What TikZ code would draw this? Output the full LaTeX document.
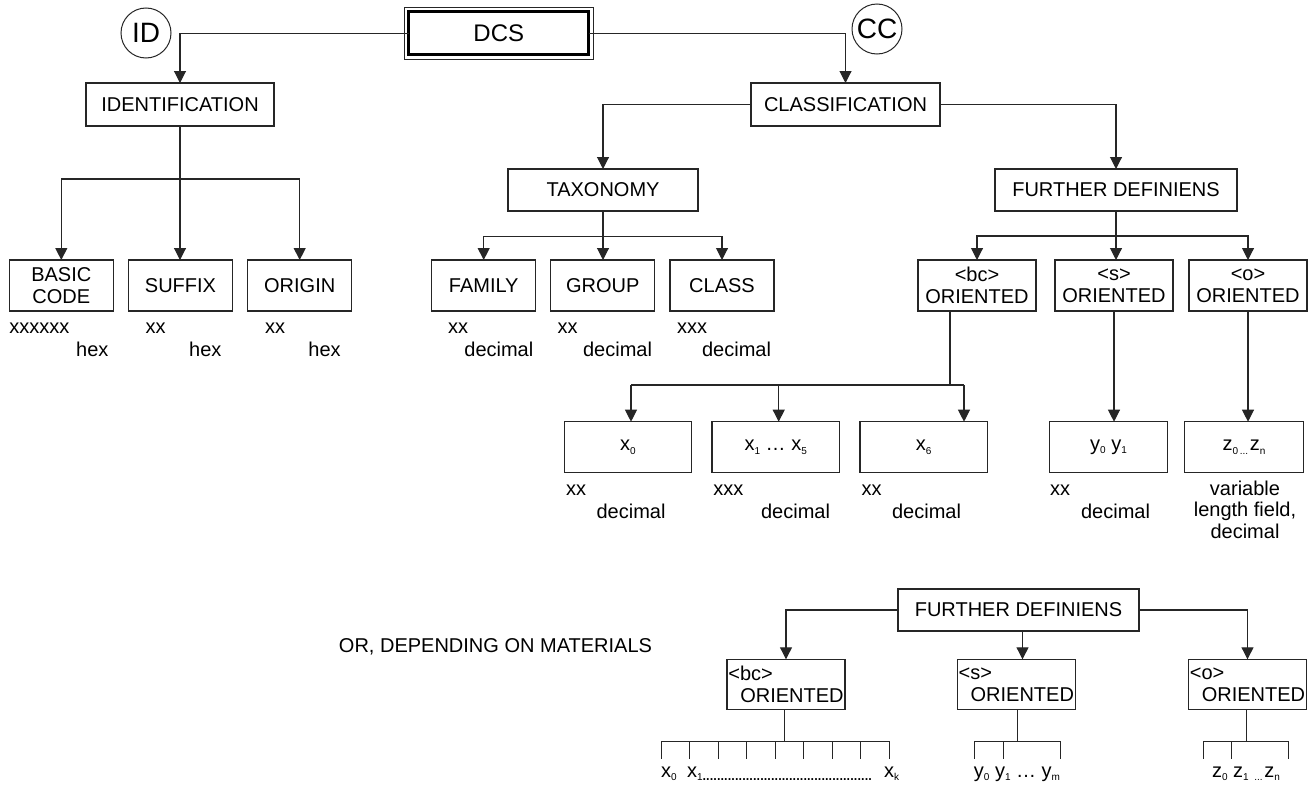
\documentclass[tikz,border=0pt]{standalone}
\usepackage{fontspec}
\setmainfont{Liberation Sans}
\usetikzlibrary{arrows.meta,calc}
% small lowered index figures
\newcommand\sbs[1]{\raisebox{-3.5pt}{\fontsize{10}{10}\selectfont #1}}

\begin{document}
\begin{tikzpicture}[x=1pt,y=-1pt,
  every node/.style={inner sep=0pt, outer sep=0pt, text=black,
    font=\fontsize{20}{22}\selectfont},
  box/.style={draw=black!85, line width=1.1pt, minimum height=43pt, align=center},
  tallbox/.style={box, minimum height=51pt},
  lowbox/.style={box, minimum height=50pt, minimum width=118pt, align=left},
  circ/.style={circle, draw=black!85, line width=1pt, minimum size=50pt,
    font=\fontsize{28}{28}\selectfont},
  ln/.style={draw=black!85, line width=1.1pt},
  arr/.style={ln, -{Triangle[length=12pt,width=12pt]}},
  comb/.style={ln, line width=1pt},
  lbl/.style={anchor=base west},
  unit/.style={anchor=base east},
]
\useasboundingbox (0,0) rectangle (1311,787);

% ---------- root ----------
\node[draw=black, line width=3.3pt, minimum width=180pt, minimum height=43pt,
      font=\fontsize{24}{26}\selectfont] (dcs) at (498.8,33.3) {DCS};
\draw[line width=1pt, black!85] ($(dcs.north west)+(-4.5,-4.5)$) rectangle ($(dcs.south east)+(4.5,4.5)$);
\node[circ] (idc) at (146,33) {ID};
\node[circ] (ccc) at (877,29) {CC};

\node[box, minimum width=188pt] (ident)   at (180,104.5) {IDENTIFICATION};
\node[box, minimum width=189pt] (classif) at (845.5,104.5) {CLASSIFICATION};
\draw[arr] (dcs.west) -| (ident.north);
\draw[arr] (dcs.east) -| (classif.north);

% ---------- identification ----------
\node[tallbox, minimum width=104pt, font=\fontsize{20}{21.7}\selectfont] (basic) at (61.3,285.5) {BASIC\\CODE};
\node[tallbox, minimum width=104pt] (suffix) at (180.5,285.5) {SUFFIX};
\node[tallbox, minimum width=104pt] (origin) at (299.7,285.5) {ORIGIN};
\coordinate (ib) at (180,179);
\draw[ln] (ident.south) -- (ib);
\draw[arr] (ib) -- (ib |- suffix.north);
\draw[arr] (ib) -| (basic.north);
\draw[arr] (ib) -| (origin.north);

\node[lbl] at (9.3,333.3) {xxxxxx};   \node[unit] at (108.4,356) {hex};
\node[lbl] at (145.7,333.3) {xx};     \node[unit] at (221.4,356) {hex};
\node[lbl] at (265,333.3) {xx};       \node[unit] at (340.7,356) {hex};

% ---------- classification ----------
\node[box, minimum width=190pt, minimum height=42pt] (tax) at (603,190) {TAXONOMY};
\node[box, minimum width=242pt, minimum height=42pt] (fd)  at (1116,190) {FURTHER DEFINIENS};
\draw[arr] (classif.west) -| (tax.north);
\draw[arr] (classif.east) -| (fd.north);

\node[tallbox, minimum width=104pt] (family) at (483.7,285.5) {FAMILY};
\node[tallbox, minimum width=104pt] (group)  at (602.8,285.5) {GROUP};
\node[tallbox, minimum width=104pt] (class)  at (722,285.5) {CLASS};
\coordinate (tb) at (603,236.7);
\draw[ln] (tax.south) -- (tb);
\draw[arr] (tb) -- (tb |- group.north);
\draw[arr] (tb) -| (family.north);
\draw[arr] (tb) -| (class.north);

\node[lbl] at (448,333.3) {xx};    \node[unit] at (533.3,356) {decimal};
\node[lbl] at (557.7,333.3) {xx};  \node[unit] at (652,356) {decimal};
\node[lbl] at (677,333.3) {xxx};   \node[unit] at (771,356) {decimal};

% ---------- further definiens ----------
\node[tallbox, minimum width=118pt] (bc) at (977,285.5) {<bc>\\ORIENTED};
\node[tallbox, minimum width=118pt] (s)  at (1114,285.5) {<s>\\ORIENTED};
\node[tallbox, minimum width=118pt] (o)  at (1248,285.5) {<o>\\ORIENTED};
\coordinate (fb) at (1116,236);
\draw[ln] (fd.south) -- (fb);
\draw[arr] (fb) -- (fb |- s.north);
\draw[arr] (fb) -| (bc.north);
\draw[arr] (fb) -| (o.north);

% bc fields
\node[tallbox, minimum width=127.4pt] (xa) at (628,447.2)   {x\sbs{0}};
\node[tallbox, minimum width=127.4pt] (xb) at (775.7,447.2) {x\sbs{1} … x\sbs{5}};
\node[tallbox, minimum width=127.4pt] (xc) at (923.7,447.2) {x\sbs{6}};
\coordinate (bcs) at (950,385);
\coordinate (bl) at (631,385);
\coordinate (bm) at (778.7,385);
\coordinate (br) at (964,385);
\draw[ln] (bc.south -| bcs) -- (bcs);
\draw[ln] (bl) -- (br);
\draw[arr] (bl) -- (bl |- xa.north);
\draw[arr] (bm) -- (bm |- xb.north);
\draw[arr] (br) -- (br |- xc.north);

\node[lbl] at (566,495) {xx};     \node[unit] at (665.5,518) {decimal};
\node[lbl] at (713.3,495) {xxx};  \node[unit] at (830,518) {decimal};
\node[lbl] at (861.7,495) {xx};   \node[unit] at (961,518) {decimal};

% s and o fields
\node[tallbox, minimum width=118.4pt] (yf) at (1108.5,447.2) {y\sbs{0} y\sbs{1}};
\node[tallbox, minimum width=118.4pt] (zf) at (1244,447.2) {z\sbs{0\,...\,}z\sbs{n}};
\draw[arr] (s.south) -- (s.south |- yf.north);
\draw[arr] (o.south) -- (o.south |- zf.north);

\node[lbl] at (1050,495) {xx};  \node[unit] at (1150,518) {decimal};
\node[anchor=base, align=center, font=\fontsize{20}{21.5}\selectfont] (zunit) at (1245,538)
  {variable\\length field,\\decimal};

% ---------- alternative layout ----------
\node[anchor=base east] (alt) at (652,652) {OR, DEPENDING ON MATERIALS};

\node[box, minimum width=241pt, minimum height=42pt] (fd2) at (1018.5,610) {FURTHER DEFINIENS};
\node[lowbox] (bc2) at (786,684.3)    {<bc>\\\hspace*{12pt}ORIENTED};
\node[lowbox] (s2)  at (1016.3,684.3) {<s>\\\hspace*{12pt}ORIENTED};
\node[lowbox] (o2)  at (1247.5,684.3) {<o>\\\hspace*{12pt}ORIENTED};
\draw[arr] (fd2.west) -| (bc2.north);
\draw[arr] (fd2.east) -| (o2.north);
\draw[arr] ($(fd2.south)+(4,0)$) -- ($(fd2.south |- s2.north)+(4,0)$);

% combs
\coordinate (c1) at (784,741);
\coordinate (c1l) at (661,741);
\coordinate (c1r) at (889.3,741);
\draw[comb] (bc2.south -| c1) -- (c1);
\draw[comb] (c1l) -- (c1r);
\foreach \i in {0,...,8} \draw[comb] ($(c1l)+(\i*28.54,0)$) -- ++(0,18.3);
\node[anchor=base west] (xk0) at (661,777) {x\sbs{0}};
\node[anchor=base west] (xk1) at (687,777)
  {x\sbs{1}\raisebox{-3pt}{\fontsize{18}{18}\selectfont\hbox to 170pt{\leaders\hbox to 3.6pt{\hss.\hss}\hfill}}};
\node[anchor=base west] (xkk) at (884,777) {x\sbs{k}};

\coordinate (c2) at (1017.3,741);
\coordinate (c2l) at (974.3,741);
\coordinate (c2r) at (1060,741);
\draw[comb] (s2.south -| c2) -- (c2);
\draw[comb] (c2l) -- (c2r);
\foreach \x in {974.3,1003.3,1060} \draw[comb] (\x,741) -- ++(0,18.3);
\node[anchor=base] (ylab) at (1017,777) {y\sbs{0} y\sbs{1} … y\sbs{m}};

\coordinate (c3) at (1246,741);
\coordinate (c3l) at (1203.3,741);
\coordinate (c3r) at (1288.3,741);
\draw[comb] (o2.south -| c3) -- (c3);
\draw[comb] (c3l) -- (c3r);
\foreach \x in {1203.3,1231.7,1288.3} \draw[comb] (\x,741) -- ++(0,18.3);
\node[anchor=base] (zlab) at (1246,777) {z\sbs{0} z\sbs{1} \sbs{...\,}z\sbs{n}};
\end{tikzpicture}
\end{document}
